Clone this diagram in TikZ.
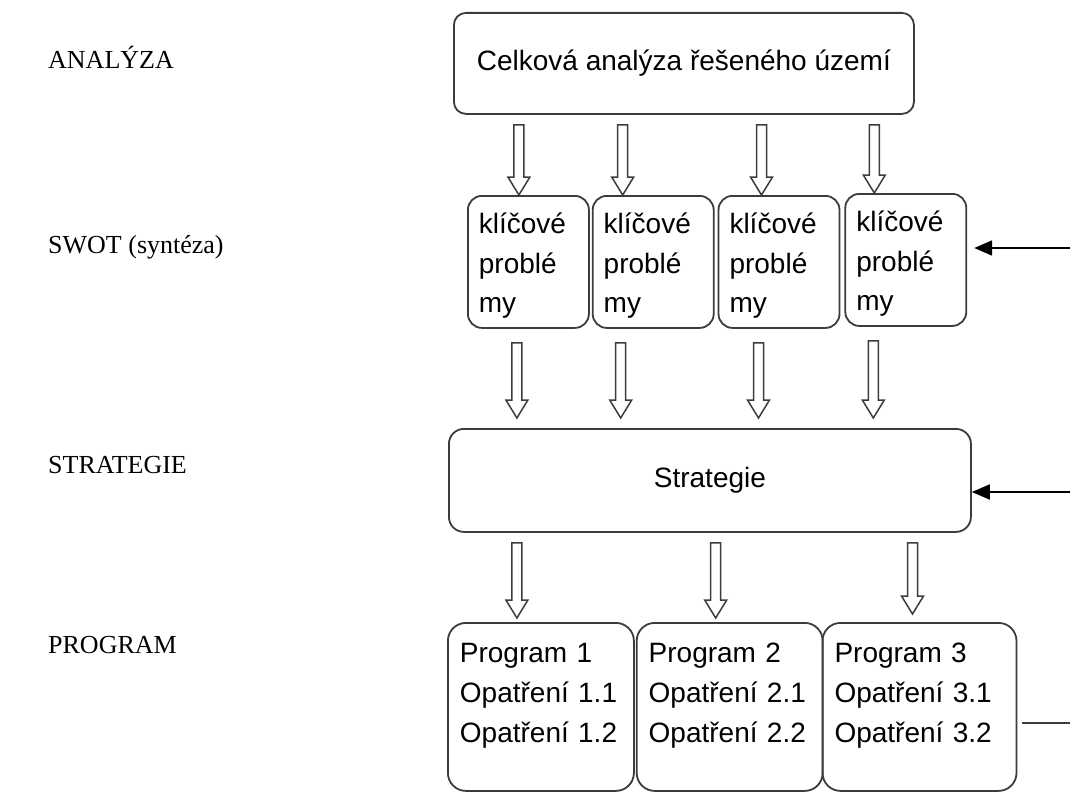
\documentclass[tikz,border=0pt]{standalone}
\usepackage{fontspec}
\setmainfont{Liberation Serif}
\newfontfamily\arialfont{Liberation Sans}
\usetikzlibrary{arrows.meta, positioning, calc}
\definecolor{boxline}{HTML}{3C3C3C}
\newcommand{\boxfont}{\arialfont\fontsize{28}{40}\selectfont}
\tikzset{
  block/.style={
    rectangle, rounded corners=12pt, draw=boxline, line width=1.8pt,
    inner sep=0pt, font=\boxfont, anchor=north west
  },
  problem/.style={
    rectangle, rounded corners=14pt, draw=boxline, line width=1.8pt,
    text width=99pt, align=left, inner xsep=11pt, inner ysep=0pt,
    text height=38pt, text depth=94pt,
    font=\arialfont\fontsize{28}{39.5}\selectfont, anchor=north west
  },
  prog/.style={
    rectangle, rounded corners=18pt, draw=boxline, line width=1.8pt,
    text width=162pt, align=left, inner xsep=12pt, inner ysep=0pt,
    text height=40pt, text depth=128pt, font=\boxfont, anchor=north west
  },
  stage/.style={font=\fontsize{26}{30}\selectfont, anchor=base west, inner sep=0pt},
  hollow/.style={
    draw=boxline, line width=1.5pt, fill=white, line join=miter,
    to path={let \p1=(\tikztostart), \p2=(\tikztotarget) in
      (\x1-5pt,\y1-10pt) -- (\x1+5pt,\y1-10pt) -- (\x1+5pt,\y2+18pt)
      -- (\x1+11pt,\y2+18pt) -- (\x1,\y2) -- (\x1-11pt,\y2+18pt)
      -- (\x1-5pt,\y2+18pt) -- cycle}
  },
  feed/.style={-{Triangle[length=18pt,width=15pt]}, line width=1.8pt, draw=black},
  feedline/.style={line width=1.8pt, draw=boxline}
}

\begin{document}
\begin{tikzpicture}[x=1pt, y=-1pt]
  \useasboundingbox (0,0) rectangle (1070,792);

  \node[stage] (lAnalyza) at (48,68) {ANALÝZA};
  \node[stage] (lSwot) at (48,253) {SWOT (syntéza)};
  \node[stage] (lStrategie) at (48,473) {STRATEGIE};
  \node[stage] (lProgram) at (48,653) {PROGRAM};

  \node[block, minimum width=460pt, minimum height=101pt] (analyza) at (453,12)
    {Celková analýza řešeného území};

  \node[problem] (swot1) at (467,195) {klíčové\\problé\\my};
  \node[problem, right=2pt of swot1] (swot2) {klíčové\\problé\\my};
  \node[problem, right=3pt of swot2] (swot3) {klíčové\\problé\\my};
  \node[problem, right=4pt of swot3, yshift=2pt] (swot4) {klíčové\\problé\\my};

  \node[block, rounded corners=15pt, minimum width=522pt, minimum height=103pt] (strategie)
    at (448,428) {Strategie};

  \node[prog] (prog1) at (447,622) {Program 1\\Opatření 1.1\\Opatření 1.2};
  \node[prog, right=1pt of prog1] (prog2) {Program 2\\Opatření 2.1\\Opatření 2.2};
  \node[prog, text width=170pt, right=-2pt of prog2] (prog3) {Program 3\\Opatření 3.1\\Opatření 3.2};

  \draw[hollow] ([xshift=-9.5pt]swot1.north |- analyza.south) to ([xshift=-9.5pt]swot1.north);
  \draw[hollow] ([xshift=-30.5pt]swot2.north |- analyza.south) to ([xshift=-30.5pt]swot2.north);
  \draw[hollow] ([xshift=-17.5pt]swot3.north |- analyza.south) to ([xshift=-17.5pt]swot3.north);
  \draw[hollow] ([xshift=-31.5pt]swot4.north |- analyza.south) to ([xshift=-31.5pt]swot4.north);

  \draw[hollow] ([xshift=-11.5pt, yshift=-4pt]swot1.south) to ([xshift=-11.5pt, yshift=10pt]swot1.south |- strategie.north);
  \draw[hollow] ([xshift=-32.5pt, yshift=-4pt]swot2.south) to ([xshift=-32.5pt, yshift=10pt]swot2.south |- strategie.north);
  \draw[hollow] ([xshift=-20.5pt, yshift=-4pt]swot3.south) to ([xshift=-20.5pt, yshift=10pt]swot3.south |- strategie.north);
  \draw[hollow] ([xshift=-32.5pt, yshift=-4pt]swot4.south) to ([xshift=-32.5pt, yshift=10pt]swot4.south |- strategie.north);

  \draw[hollow] ([xshift=-24pt]prog1.north |- strategie.south) to ([xshift=-24pt, yshift=4pt]prog1.north);
  \draw[hollow] ([xshift=-14pt]prog2.north |- strategie.south) to ([xshift=-14pt, yshift=4pt]prog2.north);
  \draw[hollow] ([xshift=-7pt]prog3.north |- strategie.south) to ([xshift=-7pt, yshift=8pt]prog3.north);

  \coordinate (feedSwot) at (1070,248);
  \coordinate (feedStrategie) at (1070,492);
  \coordinate (feedProgram) at (1070,723);
  \draw[feed, shorten >=7pt] (feedSwot) -- (feedSwot -| swot4.east);
  \draw[feed] (feedStrategie) -- (feedStrategie -| strategie.east);
  \draw[feedline] ([xshift=5pt]prog3.east |- feedProgram) -- (feedProgram);
\end{tikzpicture}
\end{document}
